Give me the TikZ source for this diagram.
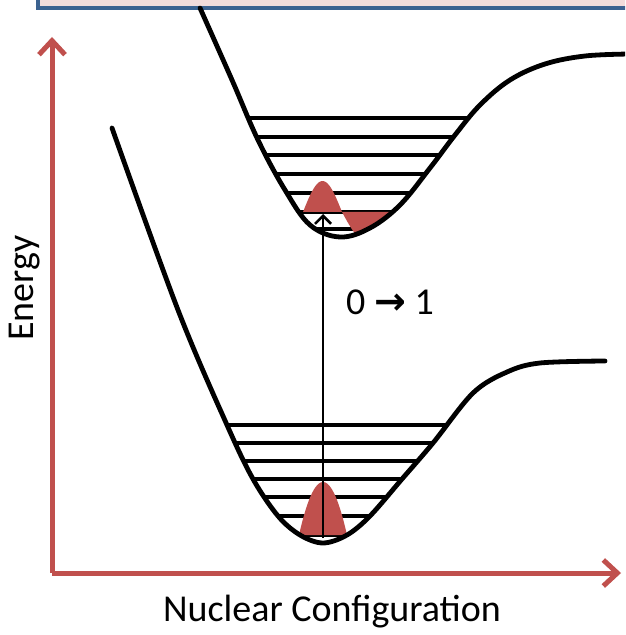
\documentclass[tikz,border=0pt]{standalone}
\usepackage{fontspec}
\setmainfont{Carlito}
\newfontfamily\arrowfont{DejaVu Sans}
\usetikzlibrary{arrows.meta}

\definecolor{axisred}{HTML}{C0504D}
\definecolor{bannerfill}{HTML}{F2DCDB}
\definecolor{bannerline}{HTML}{3B6290}

\newcommand{\upperwell}{plot[smooth, tension=0.6] coordinates {(200,8) (232,80) (258,140) (285,190) (310,225) (340,237) (370,228) (400,205) (430,168) (455,135) (480,105) (510,80) (545,64) (585,56) (630,54)}}
\newcommand{\lowerwell}{plot[smooth, tension=0.55] coordinates {(112,128) (178,310) (227,425) (253,479) (278,516) (300,535) (323,543) (347,535) (370,516) (402,479) (433,443) (473,393) (507,372) (540,363) (605,361)}}

\begin{document}
\begin{tikzpicture}[
  x=0.5pt, y=-0.5pt,
  every node/.style={font=\fontsize{19}{23}\selectfont},
  curve/.style={line width=2.4pt, line join=round, line cap=round},
  level/.style={line width=1.6pt},
  wave/.style={fill=axisred},
  axis/.style={draw=axisred, line width=2.5pt, -{Straight Barb[length=7pt, width=13pt, line width=2.5pt]}},
  trans/.style={line width=1.3pt, -{Straight Barb[length=4pt, width=8pt, line width=1.3pt]}}
]
\useasboundingbox (0,0) rectangle (625,635);
\clip (0,0) rectangle (625,635);

\draw[bannerline, fill=bannerfill, line width=1.8pt] (38,-30) rectangle (660,8);

\coordinate (origin) at (52,573);
\coordinate (ytip) at (52,37);
\coordinate (xtip) at (621,573);
\draw[axis] (origin) -- (ytip);
\draw[axis] (origin) -- (xtip);

\begin{scope}
  \clip \upperwell -- (630,-20) -- (200,-20) -- cycle;
  \foreach \y in {118,137,155,174,193,212,229}
    \draw[level] (240,\y) -- (480,\y);
  \fill[wave] (303,212) -- plot[domain=303:342, samples=30] (\x, {212-31*sin(180*(\x-303)/39)}) -- cycle;
  \fill[wave] (342,212) -- plot[domain=342:393, samples=30] (\x, {212+30*sin(180*(\x-342)/51)}) -- cycle;
\end{scope}

\begin{scope}
  \clip \lowerwell -- (605,100) -- (112,100) -- cycle;
  \foreach \y in {425,443,461,479,497,516,535}
    \draw[level] (215,\y) -- (460,\y);
  \fill[wave] (299,535) -- plot[domain=299:347, samples=30] (\x, {535-53*(1-((\x-323)/24)^2)}) -- cycle;
\end{scope}

\draw[curve] \upperwell;
\draw[curve] \lowerwell;

\coordinate (v0) at (323,538);
\coordinate (v1) at (323,214);
\draw[trans] (v0) -- (v1);

\node (translabel) at (390,302) {0 {\arrowfont\bfseries →} 1};
\node[rotate=90] (energy) at (25,288) {Energy};
\node (config) at (332,612) {Nuclear Configuration};
\end{tikzpicture}
\end{document}
